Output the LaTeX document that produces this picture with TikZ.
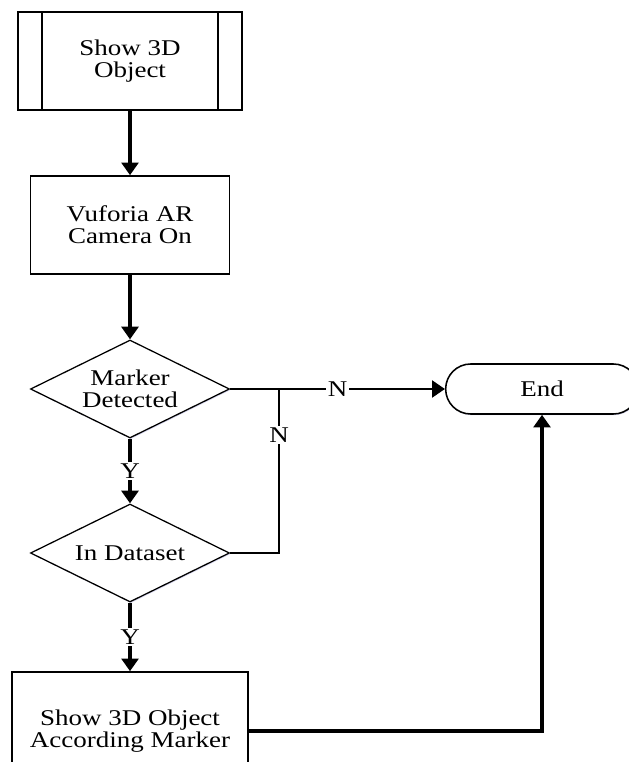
\documentclass[tikz,border=0pt]{standalone}
\usepackage{fontspec}
\setmainfont{Liberation Serif}[FakeStretch=1.2]
\usepackage{tikz}
\usetikzlibrary{shapes,arrows.meta,calc,positioning,shadows}
\tikzset{
	-{Triangle[length=9pt,width=12pt]},
	soft/.style={drop shadow={shadow xshift=0.6pt,shadow yshift=-0.8pt,fill=blue!40!gray,opacity=0.25}},
	task/.style ={rectangle, draw, line width=1.1pt, fill=white, soft, align=center, minimum width=4.975cm, minimum height=2.45cm},
	choice/.style ={diamond, draw, line width=0.9pt, fill=white, soft, align=center, inner sep=0pt, shape aspect=2, minimum width=4.975cm, minimum height=2.45cm},
	terminal/.style ={rounded rectangle, draw, line width=1.1pt, fill=white, soft, minimum width=5.05cm, minimum height=1.25cm},
	flow/.style={line width=2.2pt},
	branch/.style={line width=1.4pt},
	lbl/.style = {fill=white, inner sep=1pt}
}

\begin{document}
\begin{tikzpicture}[x=0.025cm,y=-0.025cm,every node/.style={font=\fontsize{16}{15.5}\selectfont}]
    \useasboundingbox (0,0) rectangle (629,762);
    \clip (0,0) rectangle (629,762);

    \node[task, minimum width=5.6cm] (show) at (130,61) {Show 3D\\Object};
    \draw[-, line width=1.1pt] ($(show.north west)+(25,0)$) -- ($(show.south west)+(25,0)$);
    \draw[-, line width=1.1pt] ($(show.north east)+(-25,0)$) -- ($(show.south east)+(-25,0)$);
    \node[task] (camera) at (130,225) {Vuforia AR\\Camera On};
    \node[choice] (marker) at (130,389) {Marker\\Detected};
    \node[choice] (dataset) at (130,553) {In Dataset};
    \node[task, minimum width=5.9cm, minimum height=2.95cm] (result) at (130,731) {Show 3D Object\\According Marker};
    \node[terminal] (end) at (542,389) {End};
    \coordinate (junc) at (279,389);

    \path[flow] (show) edge (camera);
    \path[flow] (camera) edge (marker);
    \draw[flow] (marker) -- node[lbl]{Y} (dataset);
    \draw[flow] (dataset) -- node[lbl]{Y} (result);
    \draw[branch] (marker) -- node[lbl]{N} (end);
    \draw[-, branch] (dataset.east) -| node[lbl, pos=0.86]{N} (junc);
    \draw[flow] (result) -| (end);

    \end{tikzpicture}
\end{document}
